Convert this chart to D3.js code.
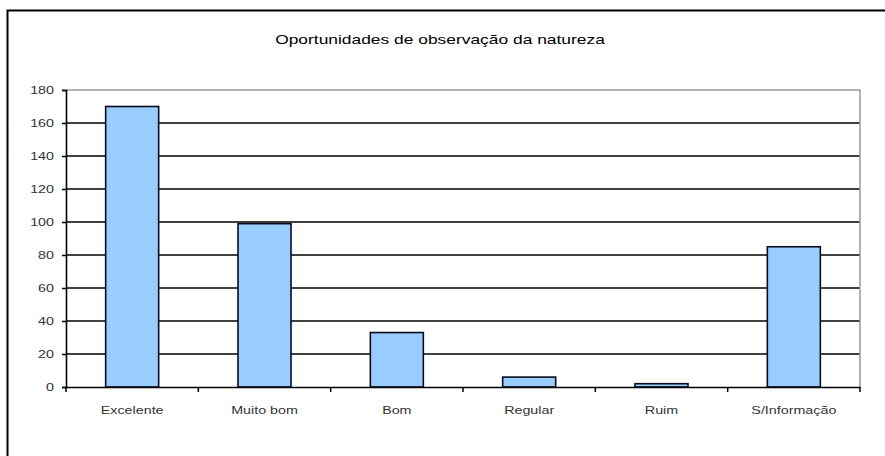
<!DOCTYPE html>
<html>
<head>
<meta charset="utf-8">
<script src="https://cdn.jsdelivr.net/npm/d3@7"></script>
<style>
  body { margin: 0; background: #fff; }
  text { font-family: "Liberation Sans", Arial, sans-serif; }
</style>
</head>
<body>
<svg width="885" height="456"></svg>
<script>
var categories = ["Excelente", "Muito bom", "Bom", "Regular", "Ruim", "S/Informação"];
var values = [170, 99, 33, 6, 2, 85];
var yTicks = [0, 20, 40, 60, 80, 100, 120, 140, 160, 180];
var title = "Oportunidades de observação da natureza";

var svg = d3.select("svg");
var stretch = 1.3;

// outer frame
svg.append("rect")
    .attr("x", 7.5).attr("y", 10.5)
    .attr("width", 900).attr("height", 460)
    .attr("fill", "none")
    .attr("stroke", "#000")
    .attr("stroke-width", 2);

var plotLeft = 66, plotRight = 860, plotTop = 90, plotBottom = 387;

var xb = d3.scaleBand().domain(categories).range([plotLeft, plotRight]);
var y = d3.scaleLinear().domain([0, 180]).range([plotBottom, plotTop]);

// gridlines
svg.append("g").selectAll("line")
    .data(yTicks.filter(function(d) { return d > 0 && d < 180; }))
    .enter().append("line")
      .attr("x1", plotLeft).attr("x2", plotRight)
      .attr("y1", function(d) { return y(d); })
      .attr("y2", function(d) { return y(d); })
      .attr("stroke", "#000")
      .attr("stroke-width", 1.6);

// plot border top/right (gray)
svg.append("path")
    .attr("d", "M" + plotLeft + "," + plotTop + "H" + plotRight + "V" + plotBottom)
    .attr("fill", "none")
    .attr("stroke", "#999")
    .attr("stroke-width", 1.5);

// bars
svg.append("g").selectAll("rect")
    .data(values)
    .enter().append("rect")
      .attr("x", function(d, i) { return xb(categories[i]) + xb.bandwidth() / 2 - 26.5; })
      .attr("width", 53)
      .attr("y", function(d) { return y(d); })
      .attr("height", function(d) { return y(0) - y(d); })
      .attr("fill", "#99ccff")
      .attr("stroke", "#0a0a1e")
      .attr("stroke-width", 1.6);

// y axis
var yAxis = svg.append("g")
    .attr("transform", "translate(" + plotLeft + ",0)")
    .call(d3.axisLeft(y).tickValues(yTicks).tickSize(4).tickPadding(6));
yAxis.select(".domain").attr("stroke", "#000").attr("stroke-width", 1.6);
yAxis.selectAll(".tick line").attr("stroke", "#000").attr("stroke-width", 1.5);
yAxis.selectAll(".tick text")
    .attr("font-size", 11)
    .attr("fill", "#333")
    .attr("transform", "scale(" + stretch + ",1)")
    .attr("x", -12 / stretch);

// x axis
var xAxis = svg.append("g")
    .attr("transform", "translate(0," + plotBottom + ")")
    .call(d3.axisBottom(xb).tickSize(0).tickPadding(19));
xAxis.select(".domain").attr("stroke", "#000").attr("stroke-width", 1.6);
xAxis.selectAll(".tick text")
    .attr("font-size", 11)
    .attr("fill", "#333")
    .attr("transform", "scale(" + stretch + ",1)");

// category separator ticks
svg.append("g").selectAll("line")
    .data(d3.range(categories.length + 1))
    .enter().append("line")
      .attr("x1", function(i) { return plotLeft + i * xb.step(); })
      .attr("x2", function(i) { return plotLeft + i * xb.step(); })
      .attr("y1", plotBottom).attr("y2", plotBottom + 5)
      .attr("stroke", "#000")
      .attr("stroke-width", 1.5);

// title
svg.append("text")
    .attr("transform", "translate(440,44) scale(1.45,1)")
    .attr("text-anchor", "middle")
    .attr("font-size", 12)
    .attr("fill", "#000")
    .text(title);
</script>
</body>
</html>
